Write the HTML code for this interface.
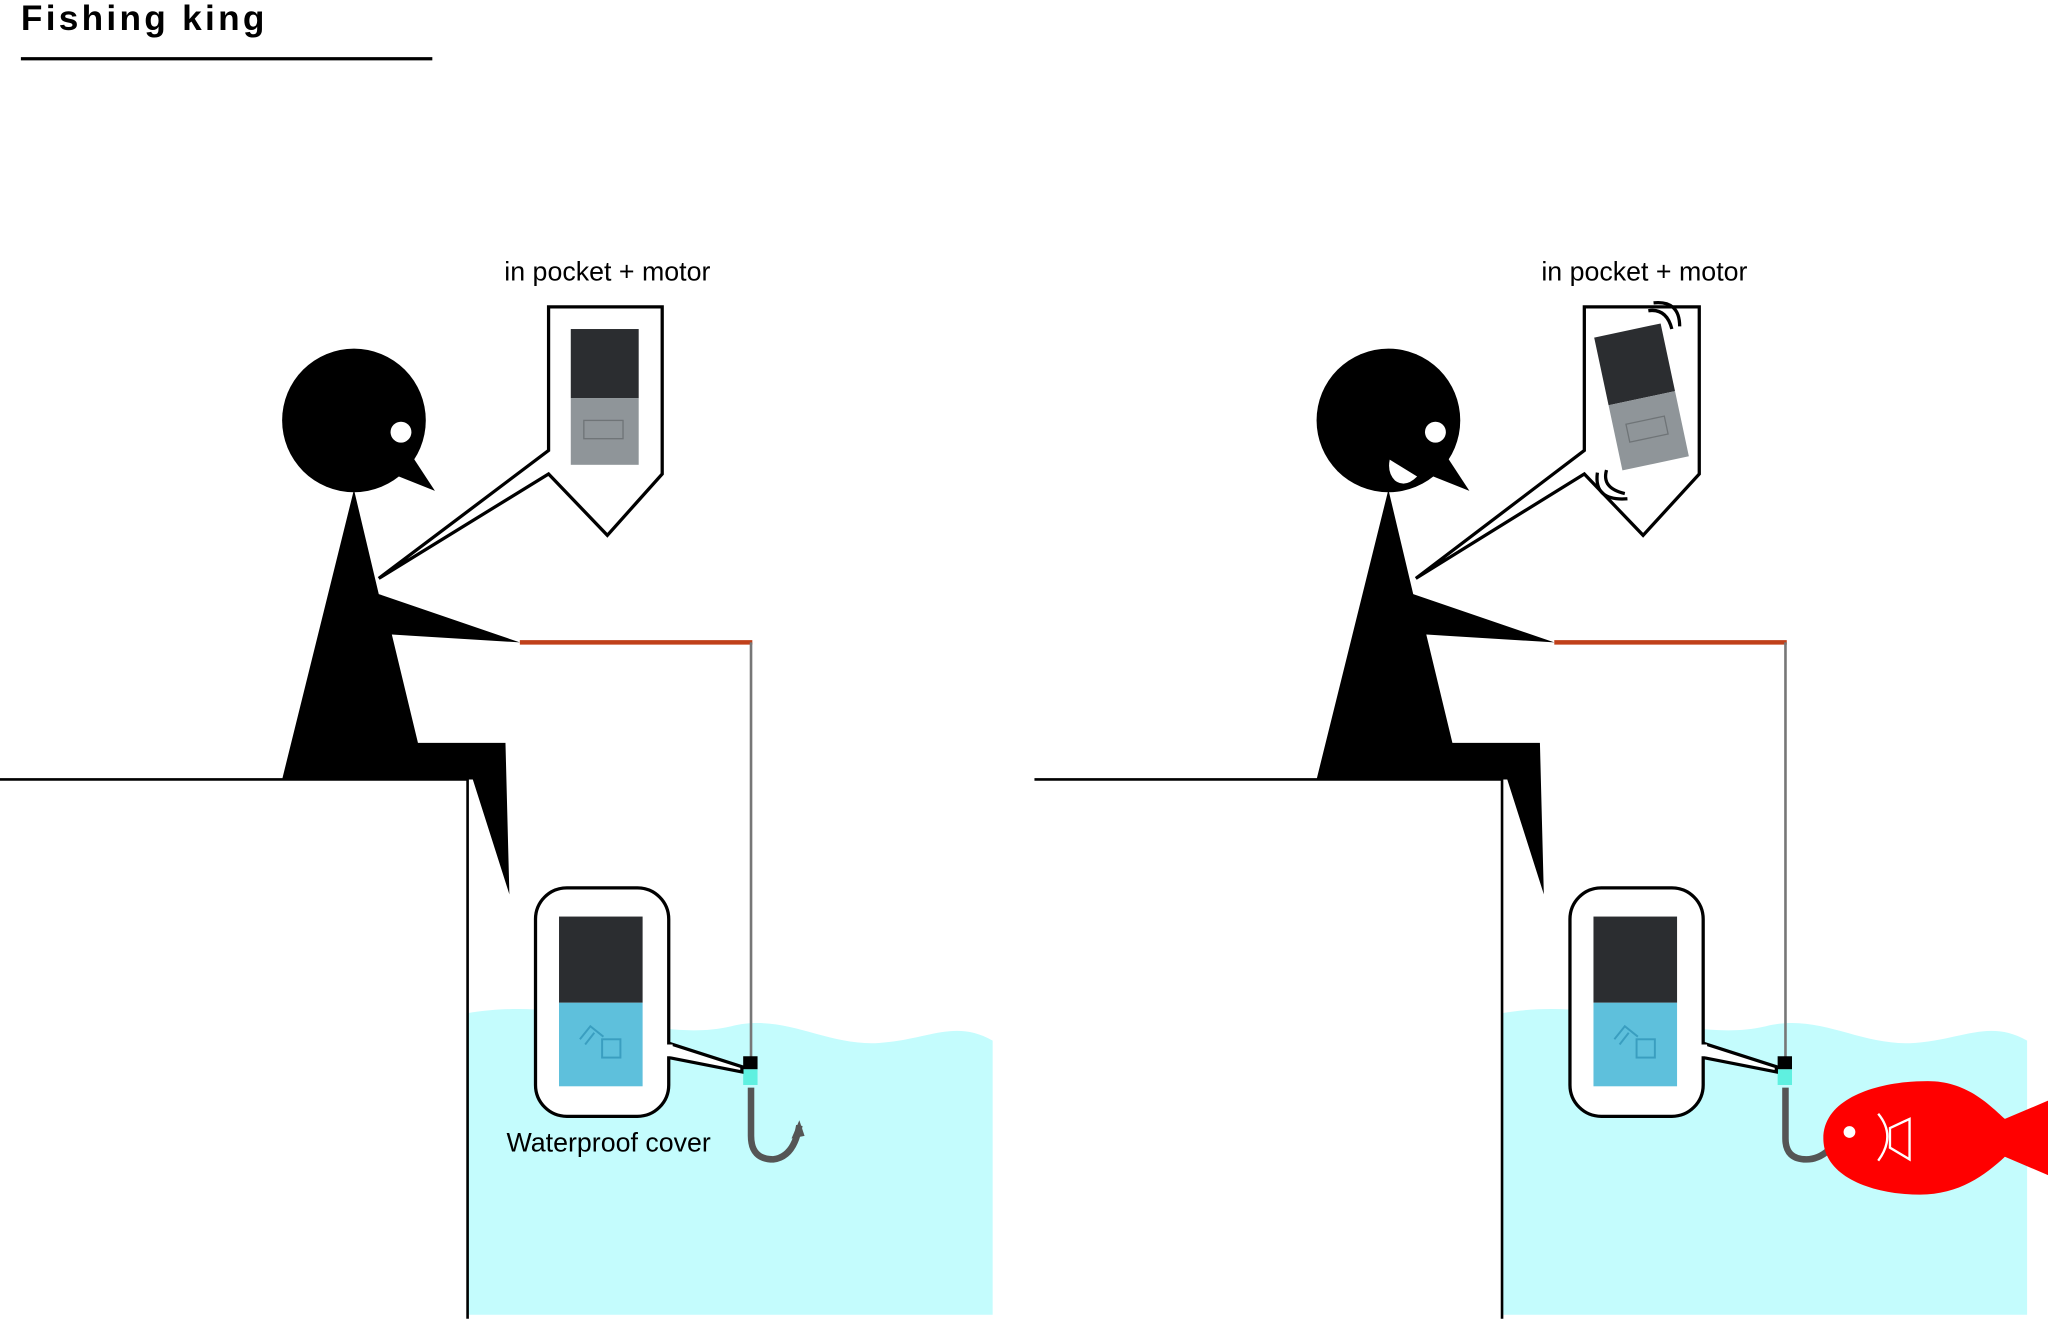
<!DOCTYPE html>
<html><head><meta charset="utf-8"><style>html,body{margin:0;padding:0;background:#fff}svg{display:block}</style></head>
<body>
<svg width="2048" height="1320" viewBox="0 0 1568 1011" preserveAspectRatio="none" xmlns="http://www.w3.org/2000/svg" font-family="Liberation Sans, sans-serif">
<text x="16" y="23" font-size="27" font-weight="bold" letter-spacing="2.5">Fishing king</text>
<line x1="16" y1="45" x2="331" y2="45" stroke="#000" stroke-width="2.5"/>

<defs>
<g id="scene">
  <path d="M358,776 C440,762 500,800 560,786 C600,776 630,800 670,799 C710,797 730,780 760,797 L760,1007 L358,1007Z" fill="#c4fcfd"/>
  <line x1="0" y1="597" x2="358" y2="597" stroke="#000" stroke-width="2"/>
  <line x1="358" y1="597" x2="358" y2="1010" stroke="#000" stroke-width="2"/>
  <circle cx="271" cy="322" r="55" fill="#000"/>
  <circle cx="307" cy="331" r="8" fill="#fff"/>
  <polygon points="316,350 333,376 303,364" fill="#000"/>
  <polygon points="271,375 290,455 398,492 300,486 320,569 387,569 390,685 362,597 216,597" fill="#000"/>
  <line x1="398" y1="492" x2="576" y2="492" stroke="#c0401a" stroke-width="3.5"/>
  <line x1="575" y1="492" x2="575" y2="810" stroke="#777" stroke-width="2"/>
  <rect x="569" y="809" width="11" height="10" fill="#000"/>
  <rect x="569" y="819" width="11" height="12" fill="#5ff0e0"/>
  <path d="M512,799 L568,817 L568,821 L512,810" fill="#fff" stroke="#000" stroke-width="2.5"/>
  <rect x="410" y="680" width="102" height="175" rx="24" fill="#fff" stroke="#000" stroke-width="2.5"/>
  <rect x="509" y="800" width="6" height="9" fill="#fff"/>
  <rect x="428" y="702" width="64" height="66" fill="#2b2d30"/>
  <rect x="428" y="768" width="64" height="64" fill="#5ec0dc"/>
  <g fill="none" stroke="#3a9ec0" stroke-width="1.5"><rect x="461" y="796" width="14" height="14"/><path d="M444,796 L452,786 L462,794"/><path d="M448,800 L455,791"/></g>
</g>
</defs>

<use href="#scene"/>
<use href="#scene" x="792"/>

<path d="M420,235 L507,235 L507,363 L465,410 L420,363 L290,443 L420,345 Z" fill="#fff" stroke="#000" stroke-width="2.5" stroke-linejoin="miter"/>
<rect x="437" y="252" width="52" height="53" fill="#2b2d30"/>
<rect x="437" y="305" width="52" height="51" fill="#8f9599"/>
<rect x="447" y="322" width="30" height="14" fill="none" stroke="#6f7477" stroke-width="1"/>
<text x="465" y="215" font-size="20.5" text-anchor="middle">in pocket + motor</text>
<text x="466" y="882" font-size="20.5" text-anchor="middle">Waterproof cover</text>
<path d="M575,833 L575,870 Q575,888 592,888 Q608,886 612,862" fill="none" stroke="#555" stroke-width="5"/>
<polygon points="612,858 606,872 616,870" fill="#555"/>

<path d="M1213,235 L1301,235 L1301,363 L1258,410 L1213,363 L1084,443 L1213,345 Z" fill="#fff" stroke="#000" stroke-width="2.5" stroke-linejoin="miter"/>
<g transform="rotate(-12 1257 305)">
<rect x="1231" y="252" width="52" height="53" fill="#2b2d30"/>
<rect x="1231" y="305" width="52" height="51" fill="#8f9599"/>
<rect x="1241" y="322" width="30" height="14" fill="none" stroke="#6f7477" stroke-width="1"/>
</g>
<g fill="none" stroke="#000" stroke-width="2.5">
<path d="M1262,238 Q1276,236 1280,252"/><path d="M1266,232 Q1286,230 1286,250"/>
<path d="M1230,360 Q1226,374 1244,378"/><path d="M1223,362 Q1220,384 1246,382"/>
</g>
<path d="M1064,352 L1085,365 Q1076,374 1068,368 Q1062,362 1064,352Z" fill="#fff"/>
<text x="1259" y="215" font-size="20.5" text-anchor="middle">in pocket + motor</text>
<path d="M1367,833 L1367,872 Q1367,888 1383,888 Q1392,888 1400,881" fill="none" stroke="#555" stroke-width="5"/>
<path d="M1396,872 C1396,840 1440,828 1476,828 C1505,828 1522,845 1535,857 L1568,843 L1568,900 L1535,886 C1520,900 1500,915 1470,915 C1435,915 1396,902 1396,872Z" fill="#ff0000"/>
<circle cx="1416" cy="867" r="4.5" fill="#fff"/>
<path d="M1438,853 Q1452,870 1438,889" fill="none" stroke="#fff" stroke-width="1.8"/>
<polygon points="1447,864 1462,857 1462,888 1447,879" fill="none" stroke="#fff" stroke-width="1.8"/>
</svg>
</body></html>
